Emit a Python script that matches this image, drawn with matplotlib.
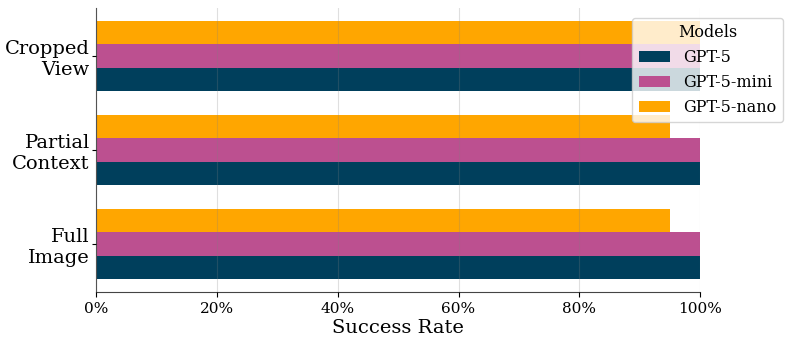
import matplotlib
matplotlib.use("Agg")
from matplotlib import pyplot as plt
from matplotlib.ticker import PercentFormatter
import numpy as np

plt.rc("font", family="DejaVu Serif")

categories = ["Full\nImage", "Partial\nContext", "Cropped\nView"]
models = ["GPT-5", "GPT-5-mini", "GPT-5-nano"]
gpt5 = [100, 100, 100]
gpt5_mini = [100, 100, 100]
gpt5_nano = [95, 95, 100]
colors = ["#003f5c", "#bc5090", "#ffa600"]

fig = plt.figure(figsize=(7.93, 3.4), dpi=100)
ax = fig.add_axes([0.121, 0.141, 0.762, 0.835])

y = np.arange(len(categories))
h = 0.25
for i, (name, vals) in enumerate(zip(models, [gpt5, gpt5_mini, gpt5_nano])):
    ax.barh(y + (i - 1) * h, vals, height=h, color=colors[i], label=name, zorder=2)

ax.set_yticks(y)
ax.set_yticklabels(categories, fontsize=14)
ax.set_xlim(0, 100)
ax.set_ylim(-0.51, 2.51)
ax.set_xticks([0, 20, 40, 60, 80, 100])
ax.xaxis.set_major_formatter(PercentFormatter(decimals=0))
ax.tick_params(axis="x", labelsize=11)
ax.tick_params(axis="y", length=3, pad=1.5)
ax.set_xlabel("Success Rate", fontsize=14, labelpad=2)

ax.spines["top"].set_visible(False)
ax.spines["right"].set_visible(False)
for s in ["left", "bottom"]:
    ax.spines[s].set_color("#444444")
# grid lines sit on top of the bars, faint
ax.grid(axis="x", color="gray", alpha=0.25, linewidth=0.8, zorder=3)
ax.set_axisbelow(False)

leg = ax.legend(title="Models", loc="upper right", bbox_to_anchor=(1.15, 0.995),
                fontsize=11.5, title_fontsize=11.5, framealpha=0.8)
leg.set_zorder(5)

fig.savefig("out.png", dpi=100)
